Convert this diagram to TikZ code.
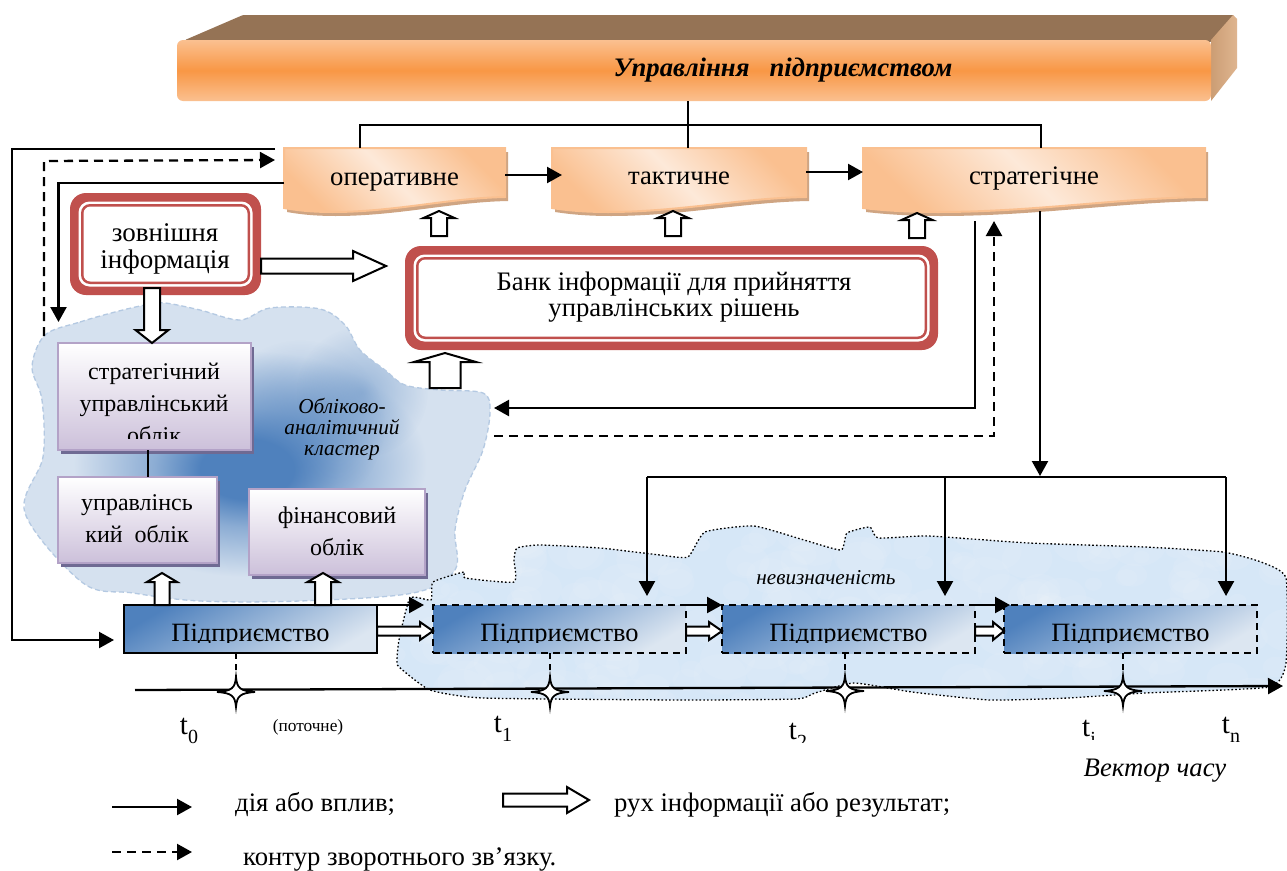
\documentclass[tikz,border=0pt]{standalone}
\usepackage{fontspec}
\setmainfont{Liberation Serif}
\usetikzlibrary{arrows.meta,calc,shadows,fadings}
\definecolor{redb}{HTML}{C0504D}
\definecolor{orA}{HTML}{FAC090}
\definecolor{orB}{HTML}{F99745}
\definecolor{orL}{HTML}{FDE9D9}
\definecolor{brownT}{HTML}{957355}
\definecolor{tanS}{HTML}{D9A87C}
\definecolor{tanW}{HTML}{CFA583}
\definecolor{bluD}{HTML}{4F81BD}
\definecolor{bluL}{HTML}{DCE6F1}
\definecolor{cloudL}{HTML}{D5E1EF}
\definecolor{cloudB}{HTML}{B4C9E2}
\definecolor{cloudW}{HTML}{D6E7F7}
\definecolor{purB}{HTML}{B3A2C7}
\definecolor{purF}{HTML}{CCC0DA}
\definecolor{purS}{HTML}{6F6A93}
\pgfdeclareradialshading{cloudshade}{\pgfpoint{-1.3bp}{-3.2bp}}{color(0bp)=(bluD);color(5bp)=(bluD);color(10bp)=(bluD!55!cloudL);color(19bp)=(cloudL);color(50bp)=(cloudL)}
\tikzfading[name=softb,inner color=transparent!0,outer color=transparent!100]
\tikzset{
 x=1pt,y=-1pt,
 lbl/.style={inner sep=0pt,align=center,font=\fontsize{26.7}{27}\selectfont},
 geo/.style={inner sep=0pt,outer sep=0pt,minimum width=#1},
 act/.style={line width=2.3pt,-{Triangle[length=15pt,width=16pt]}},
 fb/.style={line width=2.3pt,dash pattern=on 9pt off 6pt,-{Triangle[length=15pt,width=16pt]}},
 plain/.style={line width=1.7pt},
 hollowa/.style={line width=2pt,draw=black,fill=white,line join=miter},
 purp/.style={draw=purB,line width=2.4pt,top color=white,bottom color=purF,general shadow={fill=purS,shadow xshift=3pt,shadow yshift=-4pt}},
 entsolid/.style={draw=black,line width=1.6pt,left color=bluD,right color=bluL,shading angle=30},
 entdash/.style={draw=black,line width=1.6pt,dash pattern=on 7pt off 5pt,left color=bluD,right color=bluL,shading angle=30},
 vdash/.style={line width=1.4pt,dash pattern=on 6pt off 5pt},
 starst/.style={line width=1.8pt,draw=black,fill=white},
}
\newcommand\hollow[5]{%
 \coordinate (hA) at (#1);\coordinate (hB) at (#2);
 \coordinate (hC) at ($(hB)!#5pt!(hA)$);
 \draw[hollowa] ($(hA)!#3pt!90:(hB)$) -- ($(hC)!#3pt!90:(hB)$) -- ($(hC)!#4pt!90:(hB)$) -- (hB) -- ($(hC)!#4pt!-90:(hB)$) -- ($(hC)!#3pt!-90:(hB)$) -- ($(hA)!#3pt!-90:(hB)$) -- cycle;}
\newcommand\wavebox[3]{% name x1 x2
 \pgfmathsetmacro\wvA{#2+.75*(#3-#2)}\pgfmathsetmacro\wvB{#2+.5*(#3-#2)}\pgfmathsetmacro\wvC{#2+.22*(#3-#2)}\pgfmathsetmacro\wvD{#2+.12*(#3-#2)}\pgfmathsetmacro\wvE{#2+.05*(#3-#2)}
 \fill[tanW,shift={(3,4)}] (#2,148) -- (#3,148) -- (#3,197) .. controls (\wvA,198) and (\wvB,212) .. (\wvC,212) .. controls (\wvD,212) and (\wvE,210) .. (#2,208) -- cycle;
 \shade[draw=orA,line width=2pt,top color=orA,bottom color=orA,middle color=orL,shading angle=-45] (#2,148) -- (#3,148) -- (#3,197) .. controls (\wvA,198) and (\wvB,212) .. (\wvC,212) .. controls (\wvD,212) and (\wvE,210) .. (#2,208) -- cycle;}
\newcommand\redframe[1]{%
 \fill[redb,rounded corners=16pt] (#1.north west) rectangle (#1.south east);
 \fill[white,rounded corners=11pt] ([shift={(8.5,8.5)}]#1.north west) rectangle ([shift={(-8.5,-8.5)}]#1.south east);
 \fill[redb,rounded corners=9pt] ([shift={(11,11)}]#1.north west) rectangle ([shift={(-11,-11)}]#1.south east);
 \fill[white,rounded corners=7pt] ([shift={(13.5,13.5)}]#1.north west) rectangle ([shift={(-13.5,-13.5)}]#1.south east);}
\newcommand\starat[1]{%
 \draw[starst] ([shift={(0,-15)}]#1) .. controls ([shift={(1,-4)}]#1) and ([shift={(4,-1)}]#1) .. ([shift={(19,0)}]#1)
  .. controls ([shift={(4,1)}]#1) and ([shift={(1,4)}]#1) .. ([shift={(0,15)}]#1)
  .. controls ([shift={(-1,4)}]#1) and ([shift={(-4,1)}]#1) .. ([shift={(-19,0)}]#1)
  .. controls ([shift={(-4,-1)}]#1) and ([shift={(-1,-4)}]#1) .. cycle;}
\newcommand\tsub[1]{t\raisebox{-0.32em}{\fontsize{20}{20}\selectfont #1}}
\begin{document}
\begin{tikzpicture}
\useasboundingbox (0,0) rectangle (1287,870);
\fill[white] (0,0) rectangle (1287,870);
% cloud 1
\path[save path=\cloudone] plot[smooth cycle,tension=.55] coordinates {(45,335)(80,322)(115,312)(145,305)(165,303)(200,310)(240,320)(270,308)(320,309)(345,325)(360,350)(385,370)(405,385)(440,390)(483,393)(490,412)(483,450)(465,490)(455,530)(455,570)(413,593)(300,601)(200,601)(133,593)(83,583)(25,513)(43,457)(42,400)(32,367)};
\begin{scope}
\clip[use path=\cloudone];
\shade[shading=cloudshade] (25,303) rectangle (490,601);
\fill[bluD,opacity=.5,path fading=softb] (300,425) circle (85);
\fill[bluD,opacity=.45,path fading=softb] (362,392) circle (66);
\end{scope}
\draw[cloudB,line width=1.3pt,dash pattern=on 5pt off 3pt,use path=\cloudone];
% cloud 2
\path[save path=\cloudtwo] plot[smooth cycle,tension=.3] coordinates {(397,660)(399,640)(410,598)(431,600)(433,582)(464,572)(465,578)(514,582)(514,560)(517,548)(540,545)(600,548)(660,555)(688,557)(705,532)(754,526)(804,540)(841,550)(847,533)(870,527)(878,538)(928,536)(1029,543)(1145,547)(1223,552)(1261,562)(1286,578)(1286,663)(1269,687)(1145,693)(1068,698)(990,700)(912,692)(854,683)(815,693)(796,699)(680,700)(483,698)(430,690)(399,667)};
\fill[cloudW,use path=\cloudtwo];
\begin{scope}
\clip[use path=\cloudtwo];
\pgfmathsetseed{7}
\foreach \i in {1,...,220}{
 \pgfmathsetmacro\bx{390+900*rnd}\pgfmathsetmacro\by{525+180*rnd}\pgfmathsetmacro\br{6+16*rnd}
 \fill[white,opacity=.08] (\bx,\by) ellipse (\br*1.3 and \br);
}
\end{scope}
\draw[black,line width=1.3pt,dash pattern=on 1.6pt off 2.2pt,use path=\cloudtwo];
% top bar
\fill[brownT,rounded corners=1pt] (185,40) -- (243,15) -- (1234,15) -- (1211,42) -- cycle;
\shade[left color=tanS!80!brownT,right color=tanS!85!white] (1211,40) -- (1233,15) -- (1237,19) -- (1237,68) -- (1211,101) -- cycle;
\node[geo=1034,minimum height=61pt,rounded corners=6pt,top color=orA,bottom color=orA,middle color=orB] (mgmt) at (694,70.5) {};
\node[lbl,font=\fontsize{26.7}{27}\selectfont\bfseries\itshape] (mgmtt) at (783,70) {Управління\ \ \ підприємством};
% control level boxes
\wavebox{op}{284}{505}
\wavebox{tak}{552}{806}
\wavebox{str}{863}{1205}
\node[geo=221,minimum height=63pt] (op) at (394.5,179.5) {};
\node[geo=254,minimum height=63pt] (tak) at (679,179.5) {};
\node[geo=342,minimum height=63pt] (str) at (1034,179.5) {};
\node[lbl,anchor=base] (opt) at (394.5,185) {оперативне};
\node[lbl,anchor=base] (takt) at (679,184.5) {тактичне};
\node[lbl,anchor=base] (strt) at (1034,184) {стратегічне};
% red boxes
\node[geo=191,minimum height=102pt] (ext) at (165.5,244) {};
\redframe{ext}
\node[lbl,font=\fontsize{27}{27}\selectfont] (extt) at (165,249) {зовнішня\\інформація};
\node[geo=533,minimum height=104pt] (bank) at (671.5,298) {};
\redframe{bank}
\node[lbl,font=\fontsize{26.7}{26}\selectfont] (bankt) at (674,297) {Банк інформації для прийняття\\управлінських рішень};
% purple boxes
\node[geo=193,minimum height=107pt,purp] (s1) at (154.5,396.5) {};
\node[geo=159,minimum height=86pt,purp] (s2) at (137.5,520) {};
\node[geo=176,minimum height=86pt,purp] (s3) at (337,532) {};
\begin{scope}
\clip (s1.north west) rectangle (s1.east |- 0,438);
\node[lbl,font=\fontsize{24}{32}\selectfont] (s1t) at (154,403) {стратегічний\\управлінський\\облік};
\end{scope}
\node[lbl,font=\fontsize{24}{32}\selectfont] (s2t) at (137,519) {управлінсь\\кий\ \ облік};
\node[lbl,font=\fontsize{24}{32}\selectfont] (s3t) at (337,531) {фінансовий\\облік};
\node[lbl,font=\fontsize{21.3}{21}\selectfont\itshape] (clt) at (342,429) {Обліково-\\аналітичний\\кластер};
\node[lbl,font=\fontsize{21.2}{22}\selectfont\itshape] (unc) at (826,578) {невизначеність};
\draw[plain] (s1.south -| 148,0) -- (s2.north -| 148,0);
% axis
\coordinate (ax0) at (135,690);\coordinate (ax1) at (1283,686);
\draw[act] (ax0) -- (ax1);
% enterprise boxes
\node[geo=253,minimum height=48pt,entsolid] (p0) at (250.5,629) {};
\node[geo=253,minimum height=48pt,entdash] (p1) at (559.5,629) {};
\node[geo=253,minimum height=48pt,entdash] (p2) at (848.5,629) {};
\node[geo=253,minimum height=48pt,entdash] (p3) at (1130.5,629) {};
\foreach \n in {p0,p1,p2,p3}{
 \begin{scope}
 \clip (\n.north west) rectangle (\n.east |- 0,642.5);
 \node[lbl,anchor=base,font=\fontsize{26.4}{27}\selectfont] (\n t) at (\n |- 0,641) {Підприємство};
 \end{scope}
}
% hollow arrows
\hollow{439,236}{op.south -| 439,0}{8}{15.5}{7}
\hollow{673,236}{tak.south -| 673,0}{8}{15.5}{7}
\hollow{917,238}{917,213}{8}{15.5}{7}
\hollow{445,388}{445,353}{15.5}{31}{9}
\hollow{ext.east |- 0,266}{386,266}{7.5}{15}{33}
\hollow{152,288}{s1.north -| 152,0}{8}{16.5}{13}
\coordinate (hup) at (162,573);
\hollow{p0.north -| hup}{hup}{7.5}{15}{9}
\coordinate (hupb) at (323,573);
\hollow{p0.north -| hupb}{hupb}{8}{15.5}{9}
\hollow{p0.east |- 0,631}{p1.west |- 0,631}{4.5}{9}{13}
\hollow{p1.east |- 0,631}{p2.west |- 0,631}{4.5}{9}{13}
\hollow{p2.east |- 0,631}{p3.west |- 0,631}{4.5}{9}{11}
% action arrows
\coordinate (tl) at (360,125);\coordinate (tr) at (1041,125);\coordinate (tm) at (688,125);
\draw[plain] (mgmt.south -| tm) -- (tak.north -| tm);
\draw[plain] (op.north -| tl) -- (tl) -- (tr) -- (str.north -| tr);
\draw[act] (op.east |- 0,175) -- (562,175);
\draw[act] (tak.east |- 0,172) -- (str.west |- 0,172);
\coordinate (oa) at (275,149);\coordinate (ob) at (12,149);\coordinate (oc) at (12,640);\coordinate (od) at (114,640);
\draw[act] (oa) -- (ob) -- (oc) -- (od);
\coordinate (fa) at (44,336);\coordinate (fb1) at (44,161);\coordinate (fc) at (275,160);
\draw[fb] (fa) -- (fb1) -- (fc);
\coordinate (ga) at (58.5,183);\coordinate (gb) at (58.5,322);
\draw[act] (op.west |- ga) -- (ga) -- (gb);
\coordinate (ka) at (1040,476);\coordinate (kl) at (647,477);\coordinate (kr) at (1226,477);\coordinate (km) at (945,477);
\draw[act] (str.south -| ka) -- (ka);
\draw[line width=2.3pt] (kl) -- (kr);
\draw[act] (kl) -- (kl |- 0,596);
\draw[act] (km) -- (km |- 0,596);
\draw[act] (kr) -- (kr |- 0,596);
\coordinate (ma) at (975,221);\coordinate (mb) at (975,408);\coordinate (mc) at (494,408);
\draw[act] (ma) -- (mb) -- (mc);
\coordinate (na) at (494,436);\coordinate (nb) at (994,436);\coordinate (nc) at (994,221);
\draw[fb] (na) -- (nb) -- (nc);
\draw[act] (p0.north east) -- (424,605);
\draw[act] (p1.north east) -- (p2.north west);
\draw[act] (p2.north east) -- (1010,605);
% ticks and stars
\coordinate (s0c) at (236,692);\coordinate (s1c) at (550,692);\coordinate (s2c) at (845,691);\coordinate (s3c) at (1123,691);
\draw[vdash] (p0.south -| s0c) -- (s0c);
\draw[vdash] (p1.south -| s1c) -- (s1c);
\draw[vdash] (p2.south -| s2c) -- (s2c);
\draw[vdash] (p3.south -| s3c) -- (s3c);
\starat{s0c}\starat{s1c}\starat{s2c}\starat{s3c}
% time labels
\node[lbl,font=\fontsize{29}{29}\selectfont] (t0) at (189,731) {\tsub{0}};
\node[lbl,font=\fontsize{17.3}{18}\selectfont] (now) at (308,727) {(поточне)};
\node[lbl,font=\fontsize{29}{29}\selectfont] (t1) at (503,729) {\tsub{1}};
\begin{scope}
\clip (770,700) rectangle (830,742);
\node[lbl,font=\fontsize{29}{29}\selectfont] (t2) at (798,736) {\tsub{2}};
\end{scope}
\begin{scope}
\clip (1070,700) rectangle (1110,739.5);
\node[lbl,font=\fontsize{29}{29}\selectfont] (ti) at (1089,733) {\tsub{i}};
\end{scope}
\node[lbl,font=\fontsize{29}{29}\selectfont] (tn) at (1231,730) {\tsub{n}};
\node[lbl,font=\fontsize{26.7}{27}\selectfont\itshape] (vec) at (1155,771) {Вектор часу};
% legend
\coordinate (la) at (112,807);\coordinate (lb) at (192,807);
\draw[act] (la) -- (lb);
\node[lbl,anchor=west] (lt1) at (235,805) {дія або вплив;};
\coordinate (lc) at (503,800);\coordinate (ld) at (589,800);
\hollow{lc}{ld}{6.5}{13}{22}
\node[lbl,anchor=west] (lt2) at (614,805) {рух інформації або результат;};
\coordinate (le) at (112,852);\coordinate (lf) at (192,852);
\draw[fb] (le) -- (lf);
\node[lbl,anchor=west] (lt3) at (243,859) {контур зворотнього зв’язку.};
\end{tikzpicture}
\end{document}
